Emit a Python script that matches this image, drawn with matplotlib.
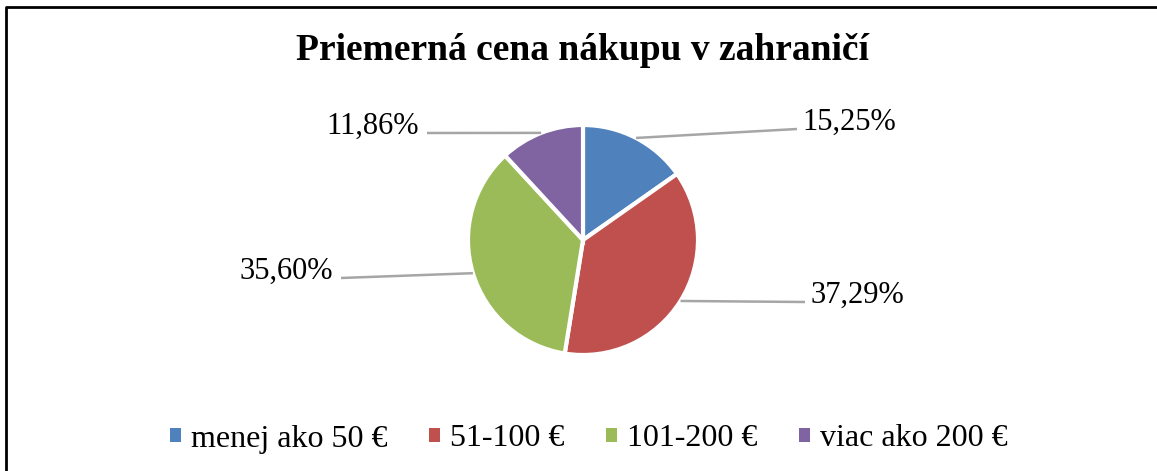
import numpy as np
import matplotlib
matplotlib.use("Agg")
import matplotlib.pyplot as plt
from matplotlib.patches import Patch

plt.rcParams['font.family'] = ['Liberation Serif', 'DejaVu Serif']

# data
categories = ["menej ako 50 €", "51-100 €", "101-200 €", "viac ako 200 €"]
shares = [15.25, 37.29, 35.60, 11.86]
colors = ["#4F81BD", "#C0504D", "#9BBB59", "#8064A2"]
title = "Priemerná cena nákupu v zahraničí"

W, H = 1157, 471
fig = plt.figure(figsize=(W / 100, H / 100), dpi=100)
ax = fig.add_axes([0, 0, 1, 1])

# pixel-like coordinates, y going up
cx, cy, r = 583, H - 240, 115
wedges, _ = ax.pie(shares, colors=colors, startangle=90, counterclock=False,
                   center=(cx, cy), radius=r, frame=True,
                   wedgeprops=dict(edgecolor="white", linewidth=3))
ax.set_xlim(0, W)
ax.set_ylim(0, H)
ax.axis("off")

# label anchors (end of leader line) and text side
label_pos = [(797, H - 129, "left"), (805, H - 302, "left"),
             (341, H - 278, "right"), (427, H - 133, "right")]
for w, val, (lx, ly, side) in zip(wedges, shares, label_pos):
    mid = np.deg2rad((w.theta1 + w.theta2) / 2)
    px, py = cx + r * np.cos(mid), cy + r * np.sin(mid)
    ax.plot([px, lx], [py, ly], color="#A6A6A6", lw=1.8, solid_capstyle="butt")
    txt = f"{val:.2f}%".replace(".", ",")
    if side == "left":
        ax.text(lx + 5, ly + 7, txt, ha="left", va="center", fontsize=22)
    else:
        ax.text(lx - 8, ly + 7, txt, ha="right", va="center", fontsize=22)

ax.text(583, H - 50, title, ha="center", va="center", fontsize=27, fontweight="bold")

handles = [Patch(facecolor=c, edgecolor="none") for c in colors]
fig.legend(handles, categories, loc="center", bbox_to_anchor=(589 / W, 1 - 439 / H),
           ncol=4, frameon=False, fontsize=23, handlelength=0.34, handleheight=0.34,
           handletextpad=0.32, columnspacing=1.3)

# chart border (right and bottom edges fall outside the crop)
ax.plot([6, 6, W + 5], [-5, H - 7, H - 7], color="black", lw=2, clip_on=False)

fig.savefig("out.png", dpi=100)
